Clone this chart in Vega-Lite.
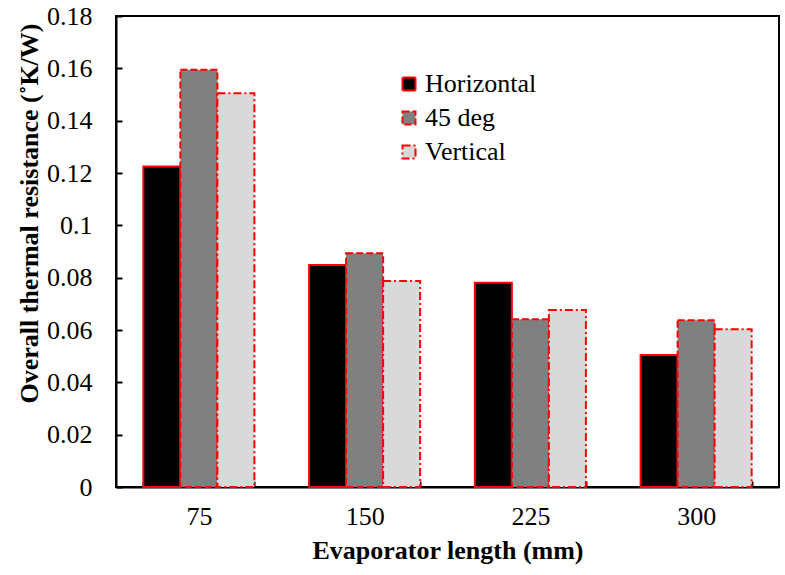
{
  "$schema": "https://vega.github.io/schema/vega-lite/v6.json",
  "width": 663,
  "height": 471,
  "autosize": "none",
  "padding": {"left": 116, "top": 16, "right": 6, "bottom": 88},
  "background": "white",
  "config": {
    "font": "Liberation Serif",
    "view": {"stroke": "black", "strokeWidth": 2},
    "axis": {
      "grid": false,
      "domainColor": "black",
      "domainWidth": 2,
      "tickColor": "black",
      "tickWidth": 2,
      "labelColor": "black",
      "labelFont": "Liberation Serif",
      "labelFontSize": 26,
      "titleColor": "black",
      "titleFont": "Liberation Serif",
      "titleFontSize": 26,
      "titleFontWeight": "bold"
    },
    "legend": {
      "orient": "none",
      "legendX": 280,
      "legendY": 55,
      "symbolType": "square",
      "symbolSize": 169,
      "symbolStrokeColor": "#ff0000",
      "symbolStrokeWidth": 2,
      "rowPadding": 8,
      "labelOffset": 3,
      "labelFont": "Liberation Serif",
      "labelFontSize": 26,
      "labelColor": "black"
    }
  },
  "data": {
    "values": [
      {"length": "75", "orientation": "Horizontal", "resistance": 0.1225},
      {"length": "75", "orientation": "45 deg", "resistance": 0.1595},
      {"length": "75", "orientation": "Vertical", "resistance": 0.1505},
      {"length": "150", "orientation": "Horizontal", "resistance": 0.0848},
      {"length": "150", "orientation": "45 deg", "resistance": 0.0893},
      {"length": "150", "orientation": "Vertical", "resistance": 0.0787},
      {"length": "225", "orientation": "Horizontal", "resistance": 0.0781},
      {"length": "225", "orientation": "45 deg", "resistance": 0.0641},
      {"length": "225", "orientation": "Vertical", "resistance": 0.0676},
      {"length": "300", "orientation": "Horizontal", "resistance": 0.0504},
      {"length": "300", "orientation": "45 deg", "resistance": 0.0637},
      {"length": "300", "orientation": "Vertical", "resistance": 0.0603}
    ]
  },
  "mark": {"type": "bar", "stroke": "#ff0000", "strokeWidth": 2},
  "encoding": {
    "x": {
      "field": "length",
      "type": "ordinal",
      "sort": ["75", "150", "225", "300"],
      "scale": {"paddingInner": 0.33, "paddingOuter": 0.165},
      "axis": {
        "title": "Evaporator length (mm)",
        "labelAngle": 0,
        "tickBand": "extent",
        "tickSize": -6,
        "labelPadding": 22,
        "titlePadding": 8
      }
    },
    "xOffset": {
      "field": "orientation",
      "type": "nominal",
      "sort": ["Horizontal", "45 deg", "Vertical"],
      "scale": {"paddingInner": 0, "paddingOuter": 0}
    },
    "y": {
      "field": "resistance",
      "type": "quantitative",
      "scale": {"domain": [0, 0.18], "nice": false},
      "axis": {
        "title": "Overall thermal resistance (˚K/W)",
        "values": [0, 0.02, 0.04, 0.06, 0.08, 0.1, 0.12, 0.14, 0.16, 0.18],
        "format": ".2~f",
        "tickSize": -6,
        "labelPadding": 30,
        "titlePadding": 4,
        "titleY": 197
      }
    },
    "fill": {
      "field": "orientation",
      "type": "nominal",
      "sort": ["Horizontal", "45 deg", "Vertical"],
      "scale": {"range": ["#000000", "#808080", "#d9d9d9"]},
      "legend": {
        "title": null,
        "encode": {
          "symbols": {
            "update": {
              "fill": {"scale": "fill", "field": "value"},
              "stroke": {"value": "#ff0000"},
              "strokeWidth": {"value": 2},
              "strokeDash": {"scale": "strokeDash", "field": "value"}
            }
          }
        }
      }
    },
    "strokeDash": {
      "field": "orientation",
      "type": "nominal",
      "sort": ["Horizontal", "45 deg", "Vertical"],
      "scale": {"range": [[1, 0], [7, 3], [8, 3, 2, 3]]},
      "legend": null
    }
  }
}
